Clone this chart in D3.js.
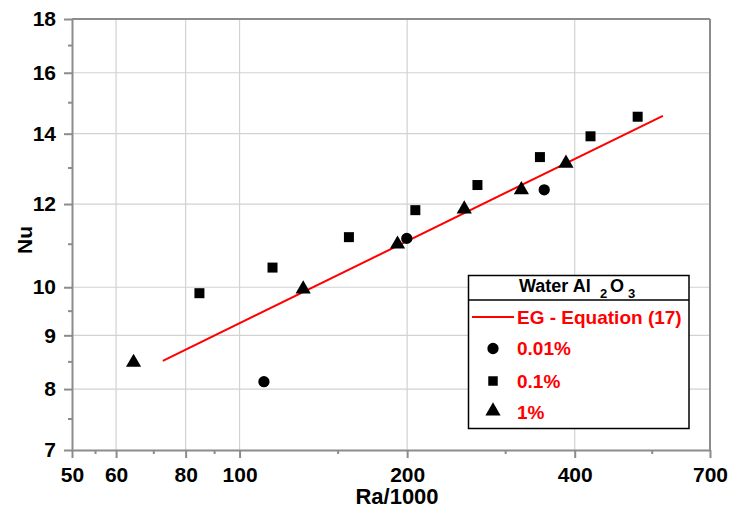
<!DOCTYPE html>
<html>
<head>
<meta charset="utf-8">
<script src="https://cdn.jsdelivr.net/npm/d3@7"></script>
<style>
  html, body { margin: 0; padding: 0; background: #fff; }
  svg { display: block; font-family: "Liberation Sans", Arial, sans-serif; font-weight: bold; }
</style>
</head>
<body>
<svg id="chart" width="731" height="510"></svg>
<script>
// ---- data (Ra/1000, Nu) ----
const circleRa = [110.6, 199.7, 352.6];
const circleNu = [8.13, 11.13, 12.38];

const squareRa = [84.7, 114.6, 157.2, 206.9, 267.5, 346.4, 427, 519];
const squareNu = [9.87, 10.44, 11.16, 11.84, 12.51, 13.30, 13.92, 14.53];

const triangleRa = [64.5, 130.1, 192.2, 253.3, 320.8, 385.8];
const triangleNu = [8.48, 9.96, 10.99, 11.87, 12.38, 13.12];

const eqRa = [72.8, 576];
const eqNu = [8.51, 14.56];

const xMajorTicks = [50, 60, 80, 100, 200, 400, 700];
const xMinorTicks = [55, 70, 90, 150, 300, 550];
const yMajorTicks = [7, 8, 9, 10, 12, 14, 16, 18];
const yMinorTicks = [7.5, 8.5, 9.5, 11, 13, 15, 17];

const legendLabels = ["EG - Equation (17)", "0.01%", "0.1%", "1%"];

// ---- layout ----
const L = 72, R = 710, T = 19, B = 450;
const svg = d3.select("#chart");
const x = d3.scaleLog().domain([50, 700]).range([L, R]);
const y = d3.scaleLog().domain([7, 18]).range([B, T]);

const axisColor = "#8c8c8c";
const gridColor = "#d2d2d2";

// grid
const grid = svg.append("g");
grid.selectAll(".gx").data(xMajorTicks.filter(v => v !== 50 && v !== 700)).join("line")
  .attr("x1", d => x(d)).attr("x2", d => x(d)).attr("y1", T).attr("y2", B)
  .attr("stroke", gridColor).attr("stroke-width", 1.2);
grid.selectAll(".gy").data(yMajorTicks.filter(v => v !== 7 && v !== 18)).join("line")
  .attr("y1", d => y(d)).attr("y2", d => y(d)).attr("x1", L).attr("x2", R)
  .attr("stroke", gridColor).attr("stroke-width", 1.2);

// frame top/right
svg.append("line").attr("x1", L).attr("x2", R).attr("y1", T).attr("y2", T)
  .attr("stroke", axisColor).attr("stroke-width", 2);
svg.append("line").attr("x1", R).attr("x2", R).attr("y1", T).attr("y2", B)
  .attr("stroke", axisColor).attr("stroke-width", 2);

// axes
function styleAxis(g) {
  g.select(".domain").attr("stroke", axisColor).attr("stroke-width", 2);
  g.selectAll(".tick line").attr("stroke", axisColor).attr("stroke-width", 2);
  g.selectAll("text").attr("fill", "#000").attr("font-size", 21).attr("font-weight", "bold")
    .attr("font-family", "Liberation Sans, Arial, sans-serif");
}
const xAxis = svg.append("g").attr("transform", `translate(0,${B})`)
  .call(d3.axisBottom(x).tickValues(xMajorTicks).tickFormat(d3.format("d")).tickSize(8).tickSizeOuter(0).tickPadding(9));
styleAxis(xAxis);
const xMinor = svg.append("g").attr("transform", `translate(0,${B})`)
  .call(d3.axisBottom(x).tickValues(xMinorTicks).tickFormat("").tickSize(4).tickSizeOuter(0));
xMinor.select(".domain").remove();
xMinor.selectAll(".tick line").attr("stroke", axisColor).attr("stroke-width", 2);

const yAxis = svg.append("g").attr("transform", `translate(${L},0)`)
  .call(d3.axisLeft(y).tickValues(yMajorTicks).tickFormat(d3.format("d")).tickSize(8).tickSizeOuter(0).tickPadding(8));
styleAxis(yAxis);
const yMinor = svg.append("g").attr("transform", `translate(${L},0)`)
  .call(d3.axisLeft(y).tickValues(yMinorTicks).tickFormat("").tickSize(4).tickSizeOuter(0));
yMinor.select(".domain").remove();
yMinor.selectAll(".tick line").attr("stroke", axisColor).attr("stroke-width", 2);

// axis titles
svg.append("text").attr("x", 397).attr("y", 504).attr("text-anchor", "middle")
  .attr("font-size", 22).text("Ra/1000");
svg.append("text").attr("transform", "translate(32,240) rotate(-90)").attr("text-anchor", "middle")
  .attr("font-size", 21).text("Nu");

// equation line
const eqData = eqRa.map((d, i) => [d, eqNu[i]]);
svg.append("path").datum(eqData)
  .attr("d", d3.line().x(d => x(d[0])).y(d => y(d[1])))
  .attr("fill", "none").attr("stroke", "#ff0000").attr("stroke-width", 2);

// markers
function drawSymbols(xs, ys, type, size) {
  svg.append("g").selectAll("path").data(xs.map((d, i) => [d, ys[i]])).join("path")
    .attr("transform", d => `translate(${x(d[0])},${y(d[1])})`)
    .attr("d", d3.symbol().type(type).size(size))
    .attr("fill", "#000");
}
drawSymbols(squareRa, squareNu, d3.symbolSquare, 100);
drawSymbols(triangleRa, triangleNu, d3.symbolTriangle, 100);
drawSymbols(circleRa, circleNu, d3.symbolCircle, 100);

// legend
const lg = svg.append("g");
lg.append("rect").attr("x", 468.5).attr("y", 275.5).attr("width", 220.5).attr("height", 153)
  .attr("fill", "#fff").attr("stroke", "#000").attr("stroke-width", 1.5);
lg.append("line").attr("x1", 468.5).attr("x2", 689).attr("y1", 300).attr("y2", 300)
  .attr("stroke", "#000").attr("stroke-width", 1.5);
const hdr = lg.append("text").attr("x", 519).attr("y", 292).attr("font-size", 18).attr("fill", "#000");
hdr.append("tspan").text("Water Al");
hdr.append("tspan").attr("x", 600).attr("dy", 6).attr("font-size", 13).text("2");
hdr.append("tspan").attr("x", 610).attr("dy", -6).text("O");
hdr.append("tspan").attr("x", 628).attr("dy", 6).attr("font-size", 13).text("3");

lg.append("line").attr("x1", 472).attr("x2", 514).attr("y1", 317).attr("y2", 317)
  .attr("stroke", "#ff0000").attr("stroke-width", 2);
const rowY = [324, 355, 388, 419];
lg.selectAll(".lt").data(legendLabels).join("text")
  .attr("x", 517).attr("y", (d, i) => rowY[i]).attr("font-size", 19).attr("fill", "#ff0000")
  .text(d => d);
const legSyms = [d3.symbolCircle, d3.symbolSquare, d3.symbolTriangle];
const legSymY = [348.5, 381, 411];
const legSize = [100, 90, 100];
lg.selectAll(".ls").data(legSyms).join("path")
  .attr("transform", (d, i) => `translate(493,${legSymY[i]})`)
  .attr("d", (d, i) => d3.symbol().type(d).size(legSize[i])())
  .attr("fill", "#000");
</script>
</body>
</html>
